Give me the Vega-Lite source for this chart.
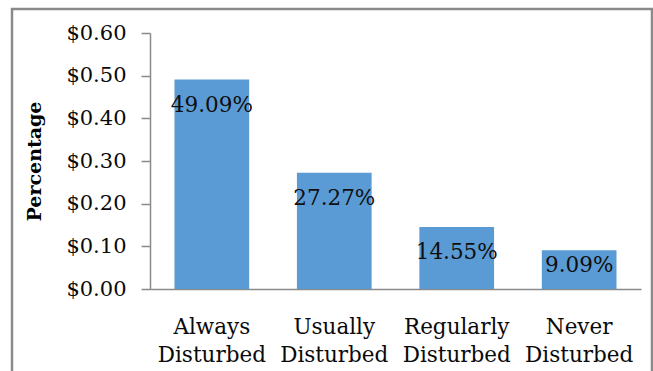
{
  "$schema": "https://vega.github.io/schema/vega-lite/v6.json",
  "autosize": "none",
  "width": 640,
  "height": 370,
  "padding": {"left": 12, "top": 9, "right": 1, "bottom": 0},
  "background": "white",
  "config": {
    "view": {"stroke": "#8a8a8a", "strokeWidth": 2.5},
    "font": "DejaVu Serif"
  },
  "data": {
    "values": [
      {"category": "Always Disturbed", "value": 0.4909, "label": "49.09%"},
      {"category": "Usually Disturbed", "value": 0.2727, "label": "27.27%"},
      {"category": "Regularly Disturbed", "value": 0.1455, "label": "14.55%"},
      {"category": "Never Disturbed", "value": 0.0909, "label": "9.09%"}
    ]
  },
  "encoding": {
    "x": {
      "field": "category",
      "type": "nominal",
      "sort": null,
      "scale": {"range": [138, 629], "paddingInner": 0.39, "paddingOuter": 0.2},
      "axis": {
        "title": null,
        "offset": -90,
        "labelAngle": 0,
        "labelExpr": "split(datum.label, ' ')",
        "labelFont": "DejaVu Serif",
        "labelFontSize": 21.5,
        "labelLineHeight": 28,
        "labelColor": "#0a0a0a",
        "labelPadding": 27,
        "ticks": false,
        "domainColor": "#8a8a8a",
        "domainWidth": 1.5
      }
    },
    "y": {
      "field": "value",
      "type": "quantitative",
      "scale": {"domain": [0, 0.6], "range": [280, 24], "nice": false},
      "axis": {
        "title": "Percentage",
        "titleFont": "DejaVu Serif",
        "titleFontSize": 19,
        "titleFontWeight": "bold",
        "titleColor": "#000000",
        "titleX": -106,
        "offset": -138,
        "values": [0, 0.1, 0.2, 0.3, 0.4, 0.5, 0.6],
        "format": "$.2f",
        "labelFont": "DejaVu Serif",
        "labelFontSize": 21,
        "labelColor": "#0a0a0a",
        "labelPadding": 15,
        "tickSize": 9,
        "tickColor": "#8a8a8a",
        "tickWidth": 1.5,
        "domainColor": "#8a8a8a",
        "domainWidth": 1.5,
        "grid": false
      }
    }
  },
  "layer": [
    {"mark": {"type": "bar", "color": "#5B9BD5"}},
    {
      "transform": [{"filter": "datum.value > 0.1"}],
      "mark": {"type": "text", "baseline": "middle", "dy": 26, "fontSize": 21.5, "color": "#0f0f0f", "font": "DejaVu Serif"},
      "encoding": {"text": {"field": "label"}}
    },
    {
      "transform": [{"filter": "datum.value <= 0.1"}],
      "mark": {"type": "text", "baseline": "middle", "dy": 16, "fontSize": 21.5, "color": "#0f0f0f", "font": "DejaVu Serif"},
      "encoding": {"text": {"field": "label"}}
    }
  ]
}
